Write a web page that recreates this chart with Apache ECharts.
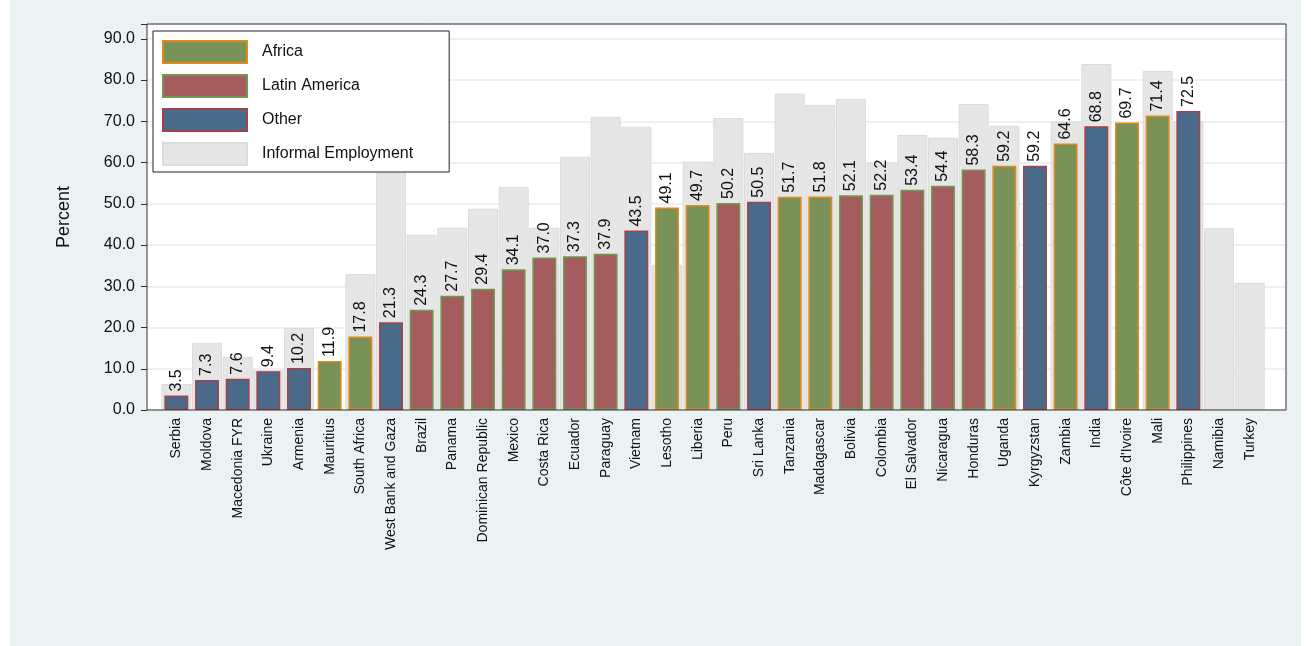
<!DOCTYPE html>
<html>
<head>
<meta charset="utf-8">
<script src="https://cdn.jsdelivr.net/npm/echarts@6/dist/echarts.min.js"></script>
<style>
  html, body { margin: 0; padding: 0; background: #fff; }
  #main { width: 1311px; height: 646px; }
</style>
</head>
<body>
<div id="main"></div>
<script>
// countries, in plotted order
var countries = ['Serbia', 'Moldova', 'Macedonia FYR', 'Ukraine', 'Armenia', 'Mauritius', 'South Africa',
  'West Bank and Gaza', 'Brazil', 'Panama', 'Dominican Republic', 'Mexico', 'Costa Rica', 'Ecuador',
  'Paraguay', 'Vietnam', 'Lesotho', 'Liberia', 'Peru', 'Sri Lanka', 'Tanzania', 'Madagascar', 'Bolivia',
  'Colombia', 'El Salvador', 'Nicaragua', 'Honduras', 'Uganda', 'Kyrgyzstan', 'Zambia', 'India',
  "Côte d'Ivoire", 'Mali', 'Philippines', 'Namibia', 'Turkey'];
// region of each country: A = Africa, L = Latin America, O = Other
var regions = ['O', 'O', 'O', 'O', 'O', 'A', 'A', 'O', 'L', 'L', 'L', 'L', 'L', 'L', 'L', 'O', 'A', 'A', 'L',
  'O', 'A', 'A', 'L', 'L', 'L', 'L', 'L', 'A', 'O', 'A', 'O', 'A', 'A', 'O', '', ''];
var values = [3.5, 7.3, 7.6, 9.4, 10.2, 11.9, 17.8, 21.3, 24.3, 27.7, 29.4, 34.1, 37.0, 37.3, 37.9, 43.5,
  49.1, 49.7, 50.2, 50.5, 51.7, 51.8, 52.1, 52.2, 53.4, 54.4, 58.3, 59.2, 59.2, 64.6, 68.8, 69.7, 71.4,
  72.5, null, null];
var informal = [6.3, 16.3, 12.9, 9.7, 19.9, null, 33.0, 57.5, 42.5, 44.2, 48.8, 54.1, 44.2, 61.4, 71.1,
  68.7, 35.2, 60.2, 70.8, 62.3, 76.7, 74.0, 75.4, 60.0, 66.7, 66.0, 74.2, 68.9, null, 69.9, 83.9, null,
  82.2, 70.1, 44.1, 30.8];

var regionStyle = {
  A: { name: 'Africa', color: '#7a9157', border: '#e08a1e' },
  L: { name: 'Latin America', color: '#a45c5f', border: '#6f9a4e' },
  O: { name: 'Other', color: '#4a6a8a', border: '#a4404a' }
};
var FONT = 'Liberation Sans';
var YMAX = 93.6;

function regionSeries(key) {
  var st = regionStyle[key];
  return {
    name: st.name,
    type: 'bar',
    stack: 'main',
    xAxisIndex: 1, yAxisIndex: 1,
    barWidth: '78%',
    z: 3,
    itemStyle: { color: st.color, borderColor: st.border, borderWidth: 1.5 },
    label: {
      show: true, position: 'top', rotate: 90, align: 'left', verticalAlign: 'middle',
      distance: 4, color: '#111', fontSize: 16, fontFamily: FONT,
      formatter: function (p) { return p.value.toFixed(1); }
    },
    data: values.map(function (v, i) { return regions[i] === key ? v : null; })
  };
}

var chart = echarts.init(document.getElementById('main'));
chart.setOption({
  animation: false,
  backgroundColor: '#fff',
  graphic: [{
    type: 'rect', shape: { x: 10, y: 0, width: 1291, height: 646 },
    style: { fill: '#eaf2f3' }, z: -10
  }, {
    // plot frame
    type: 'rect', shape: { x: 147, y: 24, width: 1139, height: 386 },
    style: { fill: null, stroke: '#333', lineWidth: 1 }, z: 10
  }],
  grid: [
    // frame grid: background, gridlines, y labels
    { left: 147, right: 25, top: 24, bottom: 236, show: true,
      backgroundColor: '#fff', borderWidth: 0 },
    // data grid: bars and country labels
    { left: 161, right: 46, top: 24, bottom: 236 }
  ],
  legend: {
    left: 153, top: 31, orient: 'vertical', icon: 'rect',
    backgroundColor: '#fff', borderColor: '#222', borderWidth: 1,
    padding: [9, 36, 6, 9], itemGap: 10, itemWidth: 84, itemHeight: 22,
    textStyle: { fontSize: 16, color: '#111', fontFamily: FONT, padding: [0, 0, 0, 10] },
    data: ['Africa', 'Latin America', 'Other', 'Informal Employment']
  },
  xAxis: [{
    type: 'value', gridIndex: 0, show: false, min: 0, max: 1
  }, {
    type: 'category', gridIndex: 1, data: countries,
    axisLine: { show: false },
    axisTick: { alignWithLabel: true, length: 6, lineStyle: { color: '#333' } },
    axisLabel: { rotate: 90, interval: 0, fontSize: 14, color: '#111', fontFamily: FONT }
  }, {
    type: 'category', gridIndex: 1, data: countries, show: false
  }],
  yAxis: [{
    type: 'value', gridIndex: 0, min: 0, max: YMAX, interval: 10,
    name: 'Percent', nameLocation: 'middle', nameGap: 74,
    nameTextStyle: { fontSize: 18, color: '#111', fontFamily: FONT },
    axisLine: { show: false },
    axisTick: { show: true, length: 6, lineStyle: { color: '#333' } },
    axisLabel: {
      fontSize: 16, color: '#111', fontFamily: FONT, margin: 12,
      formatter: function (v) { return v > 91 ? '' : v.toFixed(1); }
    },
    splitLine: { lineStyle: { color: '#eaf2f3', width: 2 } }
  }, {
    type: 'value', gridIndex: 1, min: 0, max: YMAX, show: false, splitLine: { show: false }
  }],
  series: [regionSeries('A'), regionSeries('L'), regionSeries('O'), {
    name: 'Informal Employment',
    type: 'bar',
    xAxisIndex: 2, yAxisIndex: 1,
    barWidth: '98%',
    z: 1,
    itemStyle: { color: '#e6e6e6', borderColor: '#dcdcdc', borderWidth: 1 },
    data: informal
  }]
});
</script>
</body>
</html>
